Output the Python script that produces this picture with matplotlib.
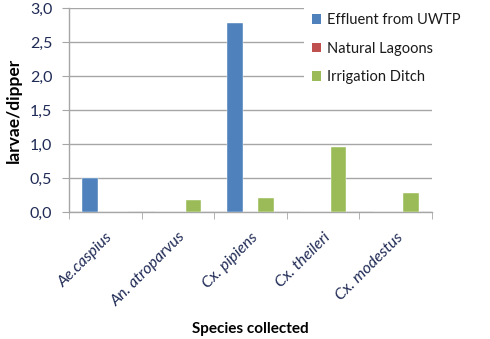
import numpy as np
import matplotlib.pyplot as plt
from matplotlib.patches import Patch

species = ['Ae.caspius', 'An. atroparvus', 'Cx. pipiens', 'Cx. theileri', 'Cx. modestus']
effluent = [0.50, 0.0, 2.78, 0.0, 0.0]
lagoons = [0.0, 0.0, 0.0, 0.0, 0.0]
ditch = [0.0, 0.17, 0.21, 0.95, 0.28]
series_names = ['Effluent from UWTP', 'Natural Lagoons', 'Irrigation Ditch']
colors = ['#4F81BD', '#C0504D', '#9BBB59']
yticks = [0.0, 0.5, 1.0, 1.5, 2.0, 2.5, 3.0]

plt.rcParams['font.family'] = ['Lato', 'DejaVu Sans']
tick_col = '#1F2A55'
grid_col = '#A6A6A6'

fig = plt.figure(figsize=(4.9, 3.39), dpi=100)
ax = fig.add_axes([69/490, 1 - 212/339, (432-69)/490, (212-8)/339])

x = np.arange(len(species))
w = 0.213
for i, vals in enumerate([effluent, lagoons, ditch]):
    ax.bar(x + (i - 1) * w, vals, width=w, color=colors[i], zorder=3,
           edgecolor='white', linewidth=0.3)

ax.set_xlim(-0.5, len(species) - 0.5)
ax.set_ylim(0, 3.0)
ax.set_yticks(yticks)
ax.set_yticklabels([f'{v:.1f}'.replace('.', ',') for v in yticks],
                   color=tick_col, fontsize=11.5)
ax.yaxis.grid(True, color=grid_col, linewidth=1.0, zorder=0)
ax.tick_params(axis='y', length=5, color=grid_col, pad=7)

ax.set_xticks(x)
ax.set_xticklabels(species, rotation=45, ha='right', rotation_mode='anchor',
                   fontstyle='italic', color=tick_col, fontsize=11.5)
ax.tick_params(axis='x', length=0, pad=13)
ax.set_xticks(np.arange(-0.5, len(species)), minor=True)
ax.tick_params(axis='x', which='minor', length=5, color=grid_col)

for s in ['top', 'right']:
    ax.spines[s].set_visible(False)
for s in ['left', 'bottom']:
    ax.spines[s].set_color(grid_col)
    ax.spines[s].set_linewidth(1.0)

ax.set_ylabel('larvae/dipper', fontweight='bold', fontsize=12.5, labelpad=6)
ax.set_xlabel('Species collected', fontweight='bold', fontsize=11, labelpad=9)

handles = [Patch(facecolor=c, edgecolor='none') for c in colors]
leg = fig.legend(handles, series_names, loc='upper left',
                 bbox_to_anchor=(304/490, 1 - 5/339), frameon=True, fontsize=10.5,
                 handlelength=0.6, handleheight=0.6, handletextpad=0.4,
                 labelspacing=1.0, borderpad=0.55, borderaxespad=0)
leg.get_frame().set_facecolor('white')
leg.get_frame().set_edgecolor('none')
leg.get_frame().set_alpha(1)
for t in leg.get_texts():
    t.set_color('#1a1a1a')

fig.savefig('out.png', dpi=100)
